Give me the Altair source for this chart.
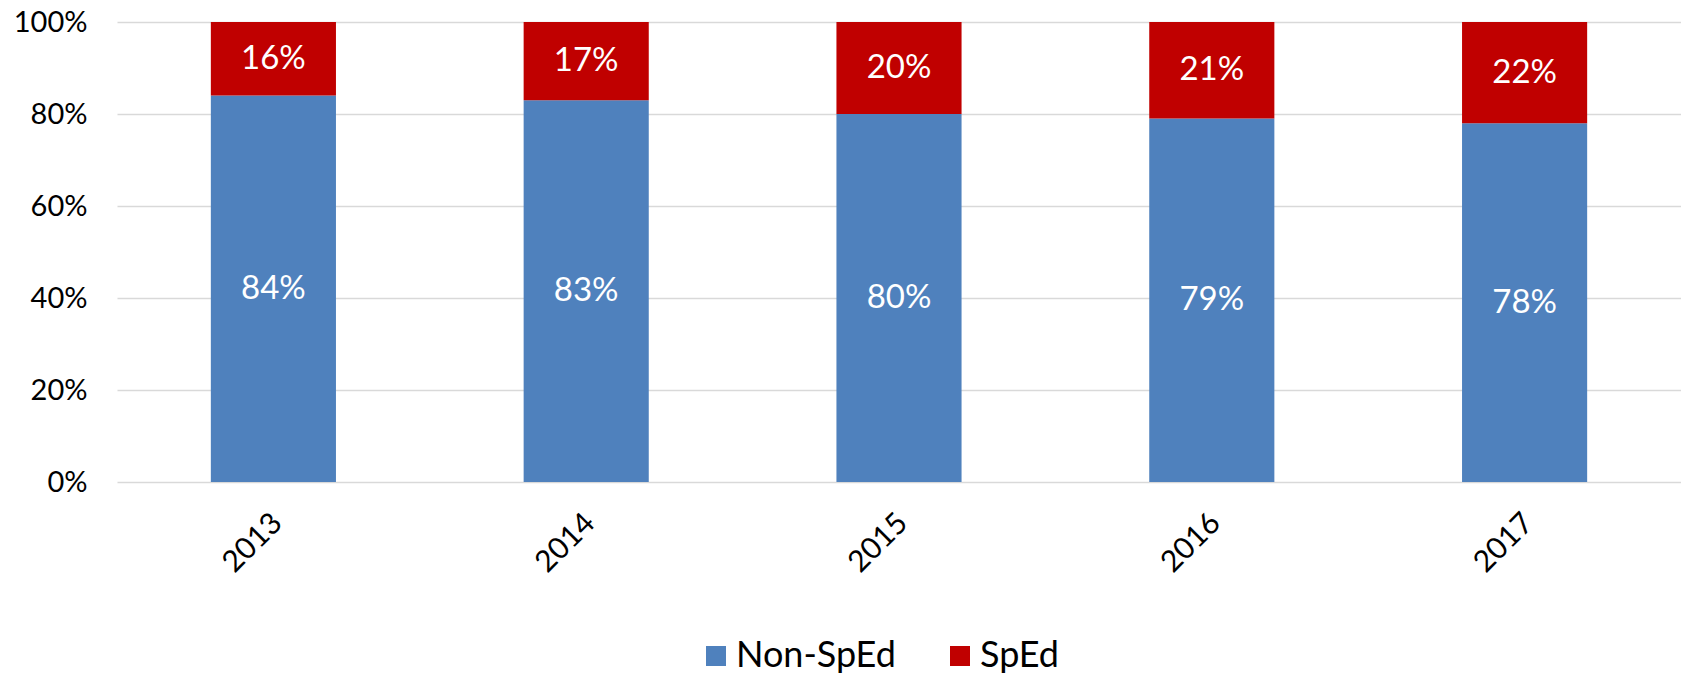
import altair as alt
import pandas as pd

years = ["2013", "2014", "2015", "2016", "2017"]
non_sped = [0.84, 0.83, 0.80, 0.79, 0.78]
sped = [0.16, 0.17, 0.20, 0.21, 0.22]
groups = ["Non-SpEd", "SpEd"]
colors = ["#4F81BD", "#C00000"]
y_ticks = [0, 0.2, 0.4, 0.6, 0.8, 1.0]

rows = []
for i, yr in enumerate(years):
    rows.append({"year": yr, "group": groups[0], "ord": 0, "v": non_sped[i]})
    rows.append({"year": yr, "group": groups[1], "ord": 1, "v": sped[i]})
df = pd.DataFrame(rows)

FONT = "Lato"

base = alt.Chart(df).transform_stack(
    stack="v", groupby=["year"], as_=["y0", "y1"], sort=[alt.SortField("ord", order="ascending")]
).transform_calculate(mid="(datum.y0 + datum.y1) / 2")

xenc = alt.X(
    "year:N",
    sort=years,
    title=None,
    scale=alt.Scale(paddingInner=0.6, paddingOuter=0.3),
    axis=alt.Axis(
        labelAngle=-45,
        labelAlign="right",
        labelBaseline="middle",
        labelPadding=36,
        labelOffset=4,
        labelFont=FONT,
        labelFontSize=30,
        labelColor="#000000",
        ticks=False,
        domain=False,
        grid=False,
    ),
)

bars = base.mark_bar().encode(
    x=xenc,
    y=alt.Y(
        "y0:Q",
        title=None,
        scale=alt.Scale(domain=[0, 1], nice=False),
        axis=alt.Axis(
            values=y_ticks,
            format=".0%",
            labelFont=FONT,
            labelFontSize=29,
            labelColor="#000000",
            labelPadding=30,
            ticks=False,
            domain=False,
            grid=True,
            gridColor="#D9D9D9",
            gridWidth=1.5,
        ),
    ),
    y2="y1:Q",
    color=alt.Color(
        "group:N",
        scale=alt.Scale(domain=groups, range=colors),
        legend=alt.Legend(
            title=None,
            orient="none",
            direction="horizontal",
            legendX=581,
            legendY=616,
            symbolType="square",
            symbolSize=400,
            symbolStrokeWidth=0,
            symbolOpacity=1,
            labelFont=FONT,
            labelFontSize=36,
            labelLimit=500,
            labelColor="#000000",
            labelOffset=2,
            columnPadding=46,
        ),
    ),
)

labels = base.mark_text(font=FONT, fontSize=33, color="white").encode(
    x=alt.X("year:N", sort=years),
    y=alt.Y("mid:Q"),
    text=alt.Text("v:Q", format=".0%"),
)

chart = (
    alt.layer(bars, labels)
    .properties(
        width=1564,
        height=460,
        autosize=alt.AutoSizeParams(type="none"),
        padding={"left": 109, "top": 14, "right": 0, "bottom": 193},
    )
    .configure_view(stroke=None)
)

chart.save("out.html", embed_options={"renderer": "svg", "actions": False})
